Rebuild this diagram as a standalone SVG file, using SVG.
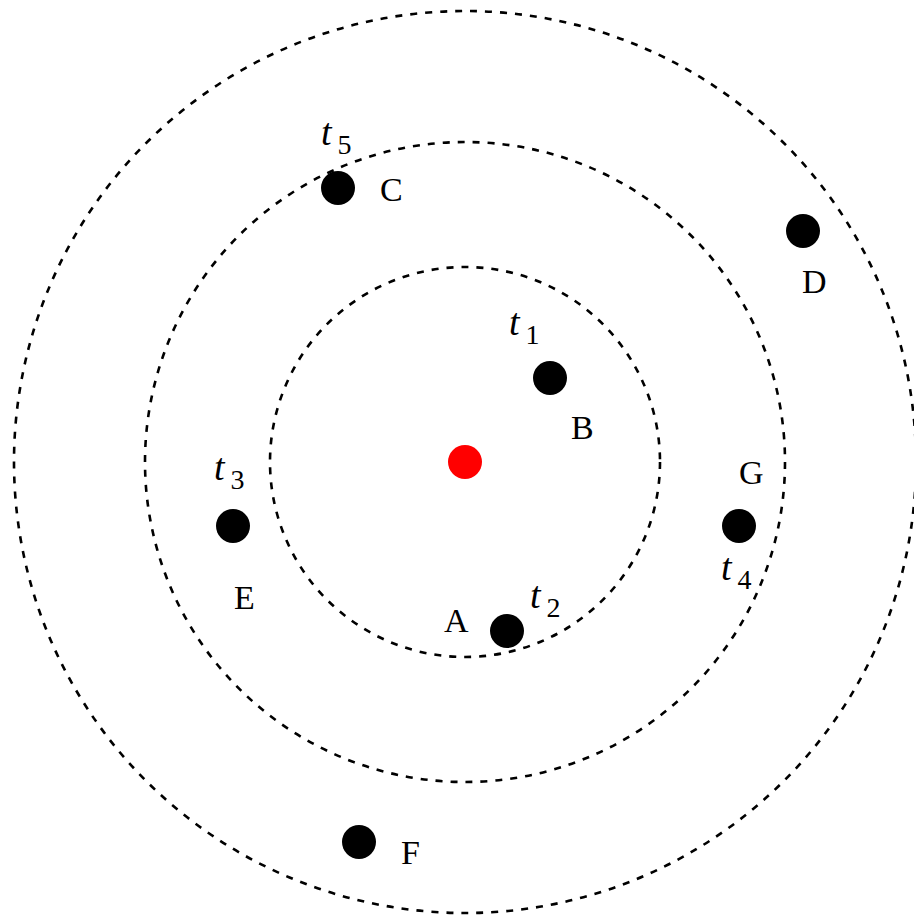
<svg xmlns="http://www.w3.org/2000/svg" width="914" height="918" viewBox="0 0 914 918">
<style>
.ring{fill:none;stroke:#000;stroke-width:2.6;stroke-dasharray:7 8}
.dot{fill:#000}
.lbl{font-family:"Liberation Serif","DejaVu Serif",serif;font-size:34px;fill:#000}
.t{font-style:italic;font-size:38px}
.sub{font-size:28px;font-style:normal}
</style>
<rect width="914" height="918" fill="#fff"/>
<g id="connectors">
<circle class="ring" cx="465" cy="462" r="195"/>
<circle class="ring" cx="465" cy="462" r="320"/>
<circle class="ring" cx="465" cy="462" r="451"/>
</g>
<g id="center"><circle cx="465" cy="462" r="17" fill="#ff0000"/></g>
<g id="nodeA"><circle class="dot" cx="507" cy="631" r="17"/><text class="lbl" x="444" y="632">A</text><text class="lbl" x="530" y="608"><tspan class="t">t</tspan><tspan class="sub" dx="6" dy="9">2</tspan></text></g>
<g id="nodeB"><circle class="dot" cx="550" cy="378" r="17"/><text class="lbl" x="571" y="439">B</text><text class="lbl" x="509" y="335"><tspan class="t">t</tspan><tspan class="sub" dx="6" dy="9">1</tspan></text></g>
<g id="nodeC"><circle class="dot" cx="338" cy="188" r="17"/><text class="lbl" x="380" y="201">C</text><text class="lbl" x="321" y="145"><tspan class="t">t</tspan><tspan class="sub" dx="6" dy="9">5</tspan></text></g>
<g id="nodeD"><circle class="dot" cx="803" cy="231" r="17"/><text class="lbl" x="802" y="293">D</text></g>
<g id="nodeE"><circle class="dot" cx="233" cy="526" r="17"/><text class="lbl" x="234" y="609">E</text><text class="lbl" x="214" y="480"><tspan class="t">t</tspan><tspan class="sub" dx="6" dy="9">3</tspan></text></g>
<g id="nodeF"><circle class="dot" cx="359" cy="842" r="17"/><text class="lbl" x="401" y="864">F</text></g>
<g id="nodeG"><circle class="dot" cx="739" cy="526" r="17"/><text class="lbl" x="739" y="484">G</text><text class="lbl" x="721" y="580"><tspan class="t">t</tspan><tspan class="sub" dx="6" dy="9">4</tspan></text></g>
</svg>
